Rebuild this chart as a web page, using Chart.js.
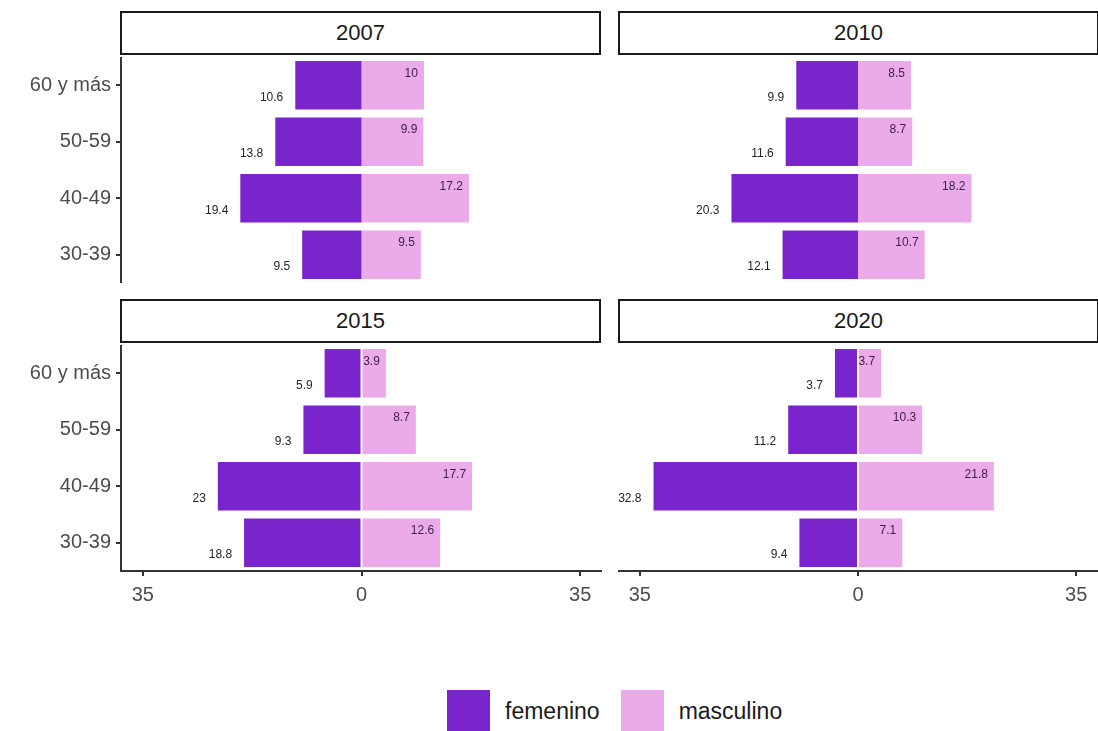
<!DOCTYPE html>
<html>
<head>
<meta charset="utf-8">
<script src="https://cdn.jsdelivr.net/npm/chart.js@4"></script>
<style>
  body { margin: 0; background: #fff; width: 1098px; height: 731px; overflow: hidden; position: relative; font-family: "Liberation Sans", Arial, sans-serif; }
  .strip { position: absolute; box-sizing: border-box; width: 481px; height: 44px; border: 2px solid #1a1a1a; background: #fff;
           font-size: 22px; color: #1a1a1a; text-align: center; line-height: 40px; }
  .panel { position: absolute; }
  .legend { position: absolute; top: 690px; left: 447px; display: flex; align-items: center; font-size: 23px; color: #1a1a1a; }
  .legend .box { width: 43px; height: 43px; display: inline-block; }
  .legend span.t { margin: 0 21px 0 15px; }
</style>
</head>
<body>
<div class="strip" style="left:120px;top:11px">2007</div>
<div class="strip" style="left:618px;top:11px">2010</div>
<div class="strip" style="left:120px;top:299px">2015</div>
<div class="strip" style="left:618px;top:299px">2020</div>

<div class="panel" style="left:0;top:57px"><canvas id="c2007"></canvas></div>
<div class="panel" style="left:618px;top:57px"><canvas id="c2010"></canvas></div>
<div class="panel" style="left:0;top:345px"><canvas id="c2015"></canvas></div>
<div class="panel" style="left:618px;top:345px"><canvas id="c2020"></canvas></div>

<div class="legend">
  <span class="box" style="background:#7a24cc"></span><span class="t">femenino</span>
  <span class="box" style="background:#ebaae9"></span><span class="t">masculino</span>
</div>

<script>
const ageGroups = ["60 y más", "50-59", "40-49", "30-39"];
const xTicks = [-35, 0, 35];

const fem2007 = [10.6, 13.8, 19.4, 9.5];
const mas2007 = [10, 9.9, 17.2, 9.5];
const fem2010 = [9.9, 11.6, 20.3, 12.1];
const mas2010 = [8.5, 8.7, 18.2, 10.7];
const fem2015 = [5.9, 9.3, 23, 18.8];
const mas2015 = [3.9, 8.7, 17.7, 12.6];
const fem2020 = [3.7, 11.2, 32.8, 9.4];
const mas2020 = [3.7, 10.3, 21.8, 7.1];

const FEM_COLOR = "#7a24cc";
const MAS_COLOR = "#ebaae9";
const FONT = "'Liberation Sans', Arial, sans-serif";

// value labels: femenino to the left of the bar end (lower), masculino inside the bar end (upper)
const barLabels = {
  id: "barLabels",
  afterDatasetsDraw(chart) {
    const ctx = chart.ctx;
    ctx.save();
    ctx.font = "12px " + FONT;
    ctx.textAlign = "right";
    ctx.textBaseline = "middle";
    chart.data.datasets.forEach((ds, i) => {
      const meta = chart.getDatasetMeta(i);
      meta.data.forEach((bar, j) => {
        const v = Math.abs(ds.data[j]);
        if (i === 0) {
          ctx.fillStyle = "#262626";
          ctx.fillText(String(v), bar.x - 12, bar.y + 12);
        } else {
          ctx.fillStyle = "#3a1f45";
          ctx.fillText(String(v), bar.x - 6, bar.y - 12);
        }
      });
    });
    ctx.restore();
  }
};

function makePanel(id, fem, mas, showY, showX) {
  const width = showY ? 602 : 480;
  const height = showX ? 270 : 226;
  const canvas = document.getElementById(id);
  canvas.width = width;
  canvas.height = height;
  canvas.style.width = width + "px";
  canvas.style.height = height + "px";

  new Chart(canvas.getContext("2d"), {
    type: "bar",
    data: {
      labels: ageGroups,
      datasets: [
        { label: "femenino", data: fem.map((v) => -v), backgroundColor: FEM_COLOR,
          barPercentage: 0.86, categoryPercentage: 1 },
        { label: "masculino", data: mas, backgroundColor: MAS_COLOR,
          barPercentage: 0.86, categoryPercentage: 1 }
      ]
    },
    plugins: [barLabels],
    options: {
      indexAxis: "y",
      responsive: false,
      animation: false,
      layout: { padding: 0 },
      plugins: { legend: { display: false }, tooltip: { enabled: false } },
      scales: {
        x: {
          stacked: true,
          min: -38.5,
          max: 38.5,
          display: showX,
          afterBuildTicks: (scale) => { scale.ticks = xTicks.map((v) => ({ value: v })); },
          afterFit: (scale) => {
            scale.height = showX ? 44 : 0;
            scale.paddingLeft = 0;
            scale.paddingRight = 0;
          },
          grid: { drawOnChartArea: false, drawTicks: true, tickLength: 5, color: "#333", lineWidth: 2 },
          border: { display: true, color: "#333", width: 2 },
          ticks: {
            padding: 7,
            color: "#4d4d4d",
            font: { size: 20, family: FONT },
            callback: (v) => Math.abs(v)
          }
        },
        y: {
          stacked: true,
          display: showY,
          afterFit: (scale) => {
            scale.width = showY ? 121 : 0;
            scale.paddingTop = 0;
            scale.paddingBottom = 0;
          },
          grid: { drawOnChartArea: false, offset: false, drawTicks: true, tickLength: 5, color: "#333", lineWidth: 2 },
          border: { display: true, color: "#333", width: 2 },
          ticks: {
            padding: 5,
            color: "#4d4d4d",
            font: { size: 20, family: FONT }
          }
        }
      }
    }
  });
}

makePanel("c2007", fem2007, mas2007, true, false);
makePanel("c2010", fem2010, mas2010, false, false);
makePanel("c2015", fem2015, mas2015, true, true);
makePanel("c2020", fem2020, mas2020, false, true);
</script>
</body>
</html>
